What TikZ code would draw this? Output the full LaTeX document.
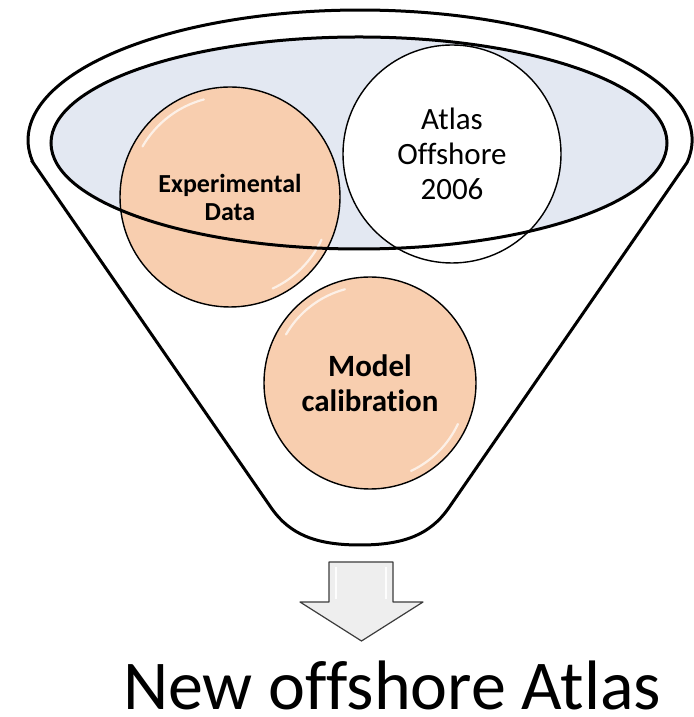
\documentclass[tikz,border=0pt]{standalone}
\usepackage{fontspec}
\setmainfont{Carlito}[Ligatures=NoCommon]
\definecolor{peach}{HTML}{F8CEAF}
\definecolor{innerfill}{HTML}{E3E8F2}
\definecolor{arrowfill}{HTML}{EEEEEE}
\definecolor{arrowline}{HTML}{3C3C3C}
\begin{document}
\begin{tikzpicture}[x=1pt,y=1pt]
\tikzset{
  funnelline/.style={line width=3pt, draw=black},
  bubble/.style={circle, draw=black, line width=1.4pt, fill=peach, inner sep=0pt, align=center},
  whitebubble/.style={bubble, fill=white},
  gloss/.style={white, line width=2.2pt, opacity=0.7, line cap=round},
}
\useasboundingbox (0,0) rectangle (693,717);
% outer funnel
\draw[funnelline, fill=white] (33,554.4) -- (272,208)
  .. controls (290,183) and (315,172) .. (360,172)
  .. controls (405,172) and (430,183) .. (448,208)
  -- (687,554.4) arc[start angle=-10, end angle=190, x radius=332, y radius=130] -- cycle;
% inner ellipse fill
\fill[innerfill] (359,574) ellipse [x radius=308, y radius=106];
% bubbles in the mouth
\node[bubble, minimum size=220pt, font=\fontsize{26}{28}\selectfont\bfseries] (ed) at (230,520) {Experimental\\Data};
\node[whitebubble, minimum size=218pt, font=\fontsize{31}{35}\selectfont] (ao) at (452,563) {Atlas\\Offshore\\2006};
\draw[gloss] (ed.center) ++(105:101) arc[start angle=105, end angle=150, radius=101];
\draw[gloss] (ed.center) ++(-25:101) arc[start angle=-25, end angle=-65, radius=101];
% inner ellipse outline
\draw[funnelline] (359,574) ellipse [x radius=308, y radius=106];
% model calibration
\node[bubble, minimum size=212pt, font=\fontsize{31}{35}\selectfont\bfseries] (mc) at (370,334) {Model\\calibration};
\draw[gloss] (mc.center) ++(105:97) arc[start angle=105, end angle=150, radius=97];
\draw[gloss] (mc.center) ++(-25:97) arc[start angle=-25, end angle=-65, radius=97];
% arrow
\draw[draw=arrowline, line width=1.2pt, fill=arrowfill, line join=round]
  (329,155) -- (393,155) -- (393,115) -- (423,115) -- (361.5,76) -- (300,115) -- (329,115) -- cycle;
\draw[white, line width=2pt, opacity=0.9] (336,150) -- (336,118);
\draw[white, line width=2pt, opacity=0.9] (386,150) -- (386,118);
% result
\node[inner sep=0pt, anchor=base, text depth=0pt, font=\fontsize{70}{80}\selectfont] (res) at (392,8) {New offshore Atlas};
\end{tikzpicture}
\end{document}
